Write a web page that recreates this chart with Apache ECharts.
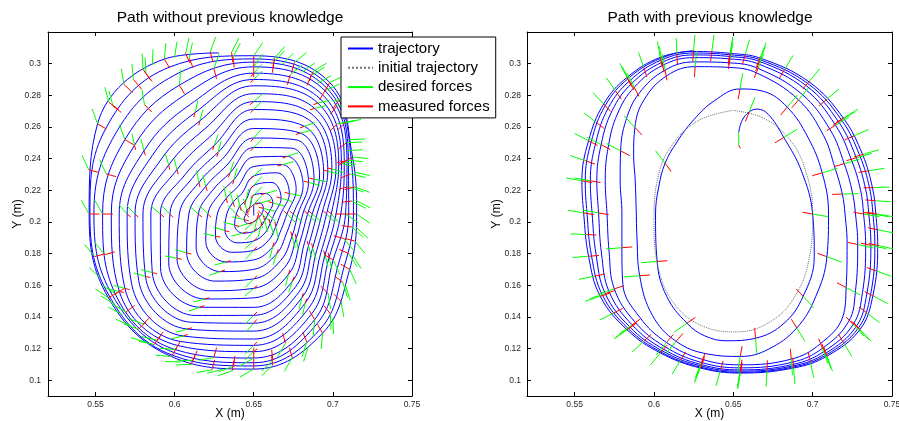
<!DOCTYPE html>
<html>
<head>
<meta charset="utf-8">
<title>Force-guided trajectories</title>
<script src="https://cdn.jsdelivr.net/npm/echarts@6/dist/echarts.min.js"></script>
<style>
  html, body { margin: 0; padding: 0; background: #fff; }
  #chart { width: 899px; height: 421px; }
</style>
</head>
<body>
<div id="chart"></div>
<script>
// Axis ticks (metres)
const xTicks = [0.55, 0.6, 0.65, 0.7, 0.75];
const yTicks = [0.1, 0.12, 0.14, 0.16, 0.18, 0.2, 0.22, 0.24, 0.26, 0.28, 0.3];

// Spiral followed without previous knowledge (x, y in m)
const leftTrajectory = [
  [0.650,0.204],
  [0.650,0.211],[0.654,0.2119],[0.6561,0.2085],[0.655,0.205],[0.6535,0.203],[0.652,0.2015],[0.650,0.200],[0.6465,0.1989],[0.6439,0.2015],[0.645,0.205],[0.6457,0.2075],[0.6475,0.2093],
  [0.650,0.217],[0.6575,0.218],[0.6621,0.212],[0.659,0.205],[0.6569,0.201],[0.6545,0.1972],[0.650,0.194],[0.643,0.1929],[0.6379,0.198],[0.639,0.205],[0.6413,0.210],[0.645,0.2137],
  [0.650,0.223],[0.6615,0.2249],[0.6673,0.215],[0.663,0.205],[0.6604,0.199],[0.657,0.1929],[0.650,0.188],[0.6395,0.1868],[0.6318,0.1945],[0.633,0.205],[0.637,0.2125],[0.6425,0.218],
  [0.650,0.229],[0.665,0.231],[0.6725,0.218],[0.667,0.205],[0.6639,0.197],[0.6595,0.1885],[0.650,0.182],[0.636,0.1808],[0.6258,0.191],[0.627,0.205],[0.6327,0.215],[0.640,0.2223],
  [0.650,0.235],[0.668,0.2362],[0.6768,0.2205],[0.671,0.205],[0.6673,0.195],[0.662,0.1842],[0.650,0.176],[0.6325,0.1747],[0.6197,0.1875],[0.621,0.205],[0.6283,0.2175],[0.6375,0.2267],
  [0.650,0.241],[0.671,0.2414],[0.6812,0.223],[0.675,0.205],[0.6708,0.193],[0.6645,0.1799],[0.650,0.170],[0.629,0.1686],[0.6136,0.184],[0.615,0.205],[0.624,0.220],[0.635,0.231],
  [0.650,0.247],[0.674,0.2466],[0.6846,0.225],[0.678,0.205],[0.6742,0.191],[0.667,0.1756],[0.650,0.164],[0.6255,0.1626],[0.6076,0.1805],[0.609,0.205],[0.6197,0.2225],[0.6325,0.2353],
  [0.650,0.253],[0.677,0.2518],[0.6881,0.227],[0.681,0.205],[0.6768,0.1895],[0.6695,0.1712],[0.650,0.158],[0.622,0.1565],[0.6015,0.177],[0.603,0.205],[0.6154,0.225],[0.630,0.2396],
  [0.650,0.259],[0.6795,0.2561],[0.6916,0.229],[0.684,0.205],[0.6794,0.188],[0.672,0.1669],[0.650,0.152],[0.619,0.1513],[0.5963,0.174],[0.597,0.205],[0.611,0.2275],[0.6275,0.244],
  [0.650,0.265],[0.682,0.2604],[0.6942,0.2305],[0.687,0.205],[0.682,0.1865],[0.6745,0.1626],[0.650,0.146],[0.616,0.1461],[0.5911,0.171],[0.591,0.205],[0.6067,0.230],[0.625,0.2483],
  [0.650,0.271],[0.6845,0.2648],[0.6968,0.232],[0.690,0.205],[0.6846,0.185],[0.6765,0.1591],[0.650,0.141],[0.613,0.1409],[0.5859,0.168],[0.585,0.205],[0.6015,0.233],[0.622,0.2535],
  [0.650,0.276],[0.6865,0.2682],[0.6994,0.2335],[0.693,0.205],[0.6872,0.1835],[0.6785,0.1556],[0.650,0.136],[0.6105,0.1366],[0.5816,0.1655],[0.580,0.205],[0.5963,0.236],[0.619,0.2587],
  [0.650,0.281],[0.6885,0.2717],[0.702,0.235],[0.696,0.205],[0.6898,0.182],[0.6805,0.1522],[0.650,0.131],[0.608,0.1323],[0.5773,0.163],[0.575,0.205],[0.5911,0.239],[0.616,0.2639],
  [0.650,0.286],[0.6905,0.2751],[0.7037,0.236],[0.699,0.205],[0.6924,0.1805],[0.6825,0.1487],[0.650,0.126],[0.6055,0.1279],[0.5729,0.1605],[0.570,0.205],[0.5859,0.242],[0.613,0.2691],
  [0.650,0.290],[0.692,0.2777],[0.7054,0.237],[0.702,0.205],[0.695,0.179],[0.6845,0.1452],[0.650,0.122],[0.6035,0.1245],[0.5686,0.158],[0.565,0.205],[0.5807,0.245],[0.610,0.2743],
  [0.650,0.294],[0.6935,0.2803],[0.7072,0.238],[0.705,0.205],[0.6976,0.1775],[0.6865,0.1418],[0.650,0.118],[0.602,0.1219],[0.5651,0.156],[0.560,0.205],[0.5747,0.2485],[0.6065,0.2803],
  [0.650,0.298],[0.695,0.2829],[0.7089,0.239],[0.708,0.205],[0.7002,0.176],[0.6885,0.1383],[0.650,0.114],[0.6005,0.1193],[0.5625,0.1545],[0.5545,0.205],[0.5686,0.252],[0.603,0.2864],
  [0.650,0.301],[0.696,0.2847],[0.7098,0.2395],[0.710,0.205],[0.7037,0.174],[0.690,0.1357],[0.650,0.111],[0.5995,0.1175],[0.5608,0.1535],[0.549,0.205],[0.5625,0.2555],[0.5995,0.2925],
  [0.650,0.303],[0.697,0.2864],[0.7115,0.2405],[0.713,0.205],[0.7072,0.172],[0.692,0.1323],[0.650,0.109],[0.5985,0.1158],[0.5591,0.1525],[0.5465,0.205],[0.5565,0.259],[0.5965,0.2977],
  [0.650,0.305],[0.698,0.2881],[0.7124,0.241],[0.715,0.205],[0.7106,0.170],[0.6935,0.1297],[0.650,0.107],[0.598,0.1149],[0.5582,0.152],[0.546,0.205],[0.5513,0.262],[0.5935,0.3029],
  [0.628,0.3068]
];

// Spiral followed with previous knowledge (x, y in m)
const rightTrajectory = [
  [0.6534,0.2565],[0.6555,0.264],[0.660,0.2695],[0.665,0.2713],[0.672,0.268],[0.6818,0.2534],[0.693,0.232],[0.700,0.205],[0.701,0.178],[0.694,0.153],[0.682,0.136],[0.664,0.1265],[0.646,0.1249],[0.632,0.128],[0.6208,0.136],[0.608,0.153],[0.602,0.175],[0.601,0.205],
  [0.603,0.222],[0.607,0.237],[0.6145,0.2505],[0.625,0.2645],[0.638,0.2765],[0.6542,0.284],[0.669,0.2825],[0.684,0.2725],[0.697,0.2535],[0.706,0.231],[0.710,0.205],[0.709,0.178],[0.702,0.153],[0.690,0.133],[0.672,0.1195],[0.6544,0.115],[0.634,0.1165],[0.614,0.1245],[0.599,0.141],[0.591,0.166],[0.5893,0.19],[0.5888,0.208],
  [0.5882,0.226],[0.5872,0.2423],[0.588,0.2597],[0.5937,0.2771],[0.6083,0.2925],[0.626,0.2981],[0.648,0.2976],[0.665,0.294],[0.6911,0.2771],[0.7069,0.2545],[0.7141,0.234],[0.7187,0.2176],[0.7204,0.205],[0.7217,0.186],[0.7211,0.1585],[0.719,0.1401],[0.7046,0.1228],[0.6865,0.1133],[0.6544,0.1097],[0.6303,0.1132],[0.6079,0.1238],[0.591,0.1398],[0.5804,0.1606],[0.5798,0.1837],[0.5798,0.2057],
  [0.5787,0.226],[0.579,0.2449],[0.5823,0.264],[0.5906,0.2812],[0.607,0.2959],[0.6257,0.3011],[0.648,0.3005],[0.6656,0.297],[0.6932,0.2807],[0.7111,0.2581],[0.7199,0.2368],[0.725,0.2189],[0.727,0.205],[0.7284,0.1857],[0.727,0.1566],[0.7228,0.1373],[0.7061,0.1201],[0.687,0.1113],[0.6544,0.1078],[0.6299,0.1112],[0.6065,0.1214],[0.588,0.1368],[0.575,0.1577],[0.5717,0.1816],[0.5704,0.2057],
  [0.5693,0.226],[0.5712,0.2474],[0.5769,0.2681],[0.5876,0.2851],[0.6058,0.2991],[0.6254,0.3038],[0.648,0.303],[0.6661,0.2997],[0.6951,0.284],[0.7144,0.2611],[0.7245,0.2391],[0.7302,0.220],[0.7321,0.205],[0.7334,0.1854],[0.7314,0.1553],[0.7255,0.1352],[0.7072,0.1182],[0.6874,0.1099],[0.6544,0.1065],[0.6297,0.1099],[0.6056,0.1198],[0.5862,0.135],[0.5717,0.156],[0.5669,0.1804],[0.5651,0.2057],
  [0.564,0.226],[0.5667,0.2488],[0.5737,0.2704],[0.5859,0.2874],[0.6052,0.3009],[0.6253,0.3055],[0.648,0.3045],[0.6665,0.3014],[0.6962,0.2859],[0.7165,0.263],[0.7275,0.2405],[0.7334,0.2206],[0.7354,0.205],[0.7367,0.1852],[0.7341,0.1544],[0.7274,0.1338],[0.708,0.1169],[0.6877,0.109],[0.6544,0.1057],[0.6295,0.109],[0.6049,0.1187],[0.5848,0.1336],[0.5693,0.1547],[0.5635,0.1795],[0.561,0.2057],
  [0.5599,0.226],[0.5633,0.2499],[0.5713,0.2722],[0.5846,0.2891],[0.6046,0.3023],[0.6252,0.3067],[0.648,0.3056],[0.6667,0.3025],[0.6971,0.2873],[0.7182,0.2644],[0.7298,0.2416],[0.7359,0.2212],[0.738,0.205],[0.7392,0.1851],[0.7364,0.1537],[0.7287,0.1328],[0.7086,0.116],[0.6878,0.1083],[0.6544,0.105],[0.6293,0.1082],[0.6044,0.1178],[0.5838,0.1326],[0.5675,0.1538],[0.5606,0.1788],[0.5578,0.2057],
  [0.5567,0.226],[0.5605,0.2508],[0.5694,0.2737],[0.5836,0.2905],[0.6042,0.3033],[0.625,0.3077],[0.648,0.3065],[0.6669,0.3035],[0.6977,0.2885],[0.7194,0.2655],[0.7315,0.2424],[0.7377,0.2215],[0.7398,0.205],[0.741,0.185],[0.7379,0.1532],[0.7298,0.132],[0.709,0.1152],[0.688,0.1077],[0.6544,0.1045],[0.6292,0.1077],[0.604,0.1172],[0.583,0.1319],[0.5661,0.1531],[0.5588,0.1783],[0.5557,0.2057],
  [0.5546,0.226],[0.5588,0.2513],[0.5683,0.2745],[0.583,0.2913],[0.604,0.304],[0.625,0.3082]
];

// Initial (planned) trajectory used as prior
const initialTrajectory = [
  [0.650,0.2705],[0.668,0.266],[0.684,0.254],[0.695,0.234],[0.700,0.205],[0.698,0.178],[0.690,0.155],[0.675,0.138],[0.652,0.1305],[0.630,0.1345],[0.613,0.148],[0.603,0.170],[0.600,0.200],[0.6025,0.228],[0.611,0.248],[0.628,0.264],[0.650,0.2705]
];

// Forces: [x, y, dx, dy] -> drawn from (x, y) to (x + dx, y + dy)
const leftDesired = [
  [0.650,0.211,0.0050,0.0055],[0.654,0.2119,0.0070,0.0021],[0.6561,0.2085,0.0074,-0.0017],[0.655,0.205,0.0055,-0.0050],[0.6535,0.203,0.0021,-0.0070],[0.652,0.2015,-0.0017,-0.0074],[0.650,0.200,-0.0055,-0.0050],[0.6465,0.1989,-0.0070,-0.0021],[0.6439,0.2015,-0.0074,0.0017],[0.645,0.205,-0.0050,0.0055],[0.6457,0.2075,-0.0021,0.0070],[0.6475,0.2093,0.0017,0.0074],
  [0.650,0.217,0.0053,0.0053],[0.6575,0.218,0.0072,0.0019],[0.6621,0.212,0.0072,-0.0019],[0.659,0.205,0.0053,-0.0053],[0.6569,0.201,0.0019,-0.0072],[0.6545,0.1972,-0.0019,-0.0072],[0.650,0.194,-0.0053,-0.0053],[0.643,0.1929,-0.0072,-0.0019],[0.6379,0.198,-0.0072,0.0019],[0.639,0.205,-0.0053,0.0053],[0.6413,0.210,-0.0019,0.0072],[0.645,0.2137,0.0019,0.0072],
  [0.650,0.223,0.0050,0.0056],[0.6673,0.215,0.0070,-0.0022],[0.6604,0.199,0.0022,-0.0070],[0.650,0.188,-0.0056,-0.0050],[0.6318,0.1945,-0.0070,0.0022],[0.637,0.2125,-0.0022,0.0070],
  [0.650,0.229,0.0055,0.0051],[0.6725,0.218,0.0074,-0.0016],[0.6639,0.197,0.0016,-0.0074],[0.650,0.182,-0.0051,-0.0055],[0.6258,0.191,-0.0074,0.0016],[0.6327,0.215,-0.0016,0.0074],
  [0.668,0.2362,0.0072,0.0019],[0.671,0.205,0.0053,-0.0053],[0.662,0.1842,-0.0019,-0.0072],[0.6325,0.1747,-0.0072,-0.0019],[0.621,0.205,-0.0053,0.0053],[0.6375,0.2267,0.0019,0.0072],
  [0.671,0.2414,0.0070,0.0023],[0.675,0.205,0.0056,-0.0050],[0.6645,0.1799,-0.0023,-0.0070],[0.629,0.1686,-0.0070,-0.0023],[0.615,0.205,-0.0056,0.0050],[0.635,0.231,0.0023,0.0070],
  [0.650,0.247,0.0053,0.0053],[0.6846,0.225,0.0072,-0.0019],[0.6742,0.191,0.0019,-0.0072],[0.650,0.164,-0.0053,-0.0053],[0.6076,0.1805,-0.0072,0.0019],[0.6197,0.2225,-0.0019,0.0072],
  [0.650,0.253,0.0049,0.0057],[0.6881,0.227,0.0075,-0.0015],[0.6768,0.1895,0.0015,-0.0075],[0.650,0.158,-0.0057,-0.0049],[0.6015,0.177,-0.0075,0.0015],[0.6154,0.225,-0.0015,0.0075],
  [0.6795,0.2561,0.0072,0.0019],[0.684,0.205,0.0053,-0.0053],[0.672,0.1669,-0.0019,-0.0072],[0.619,0.1513,-0.0072,-0.0019],[0.597,0.205,-0.0053,0.0053],[0.6275,0.244,0.0019,0.0072],
  [0.682,0.2604,0.0069,0.0024],[0.687,0.205,0.0057,-0.0048],[0.6745,0.1626,-0.0024,-0.0069],[0.616,0.1461,-0.0069,-0.0024],[0.591,0.205,-0.0057,0.0048],[0.625,0.2483,0.0024,0.0069],
  [0.650,0.271,0.0053,0.0053],[0.6968,0.232,0.0072,-0.0019],[0.6846,0.185,0.0019,-0.0072],[0.650,0.141,-0.0053,-0.0053],[0.5859,0.168,-0.0072,0.0019],[0.6015,0.233,-0.0019,0.0072],
  [0.650,0.276,0.0056,0.0050],[0.6994,0.2335,0.0073,-0.0023],[0.6872,0.1835,0.0023,-0.0073],[0.650,0.136,-0.0050,-0.0056],[0.5816,0.1655,-0.0073,0.0023],[0.5963,0.236,-0.0023,0.0073],
  [0.6885,0.2717,0.0072,0.0019],[0.696,0.205,0.0053,-0.0053],[0.6805,0.1522,-0.0019,-0.0072],[0.608,0.1323,-0.0072,-0.0019],[0.575,0.205,-0.0053,0.0053],[0.616,0.2639,0.0019,0.0072],
  [0.6905,0.2751,0.0074,0.0016],[0.699,0.205,0.0050,-0.0056],[0.6825,0.1487,-0.0016,-0.0074],[0.6055,0.1279,-0.0074,-0.0016],[0.570,0.205,-0.0050,0.0056],[0.613,0.2691,0.0016,0.0074],
  [0.650,0.290,0.0053,0.0053],[0.7054,0.237,0.0072,-0.0019],[0.695,0.179,0.0019,-0.0072],[0.650,0.122,-0.0053,-0.0053],[0.5686,0.158,-0.0072,0.0019],[0.5807,0.245,-0.0019,0.0072],
  [0.650,0.294,0.0051,0.0055],[0.7072,0.238,0.0073,-0.0017],[0.6976,0.1775,0.0017,-0.0073],[0.650,0.118,-0.0055,-0.0051],[0.5651,0.156,-0.0073,0.0017],[0.5747,0.2485,-0.0017,0.0073],
  [0.650,0.298,0.0057,0.0082],[0.695,0.2829,0.0091,0.0042],[0.7089,0.239,0.0100,-0.0009],[0.708,0.205,0.0082,-0.0057],[0.7002,0.176,0.0042,-0.0091],[0.6885,0.1383,-0.0009,-0.0100],
  [0.650,0.114,-0.0087,-0.0050],[0.6005,0.1193,-0.0100,0.0009],[0.5625,0.1545,-0.0082,0.0057],[0.5545,0.205,-0.0050,0.0087],[0.5686,0.252,-0.0034,0.0094],[0.603,0.2864,0.0009,0.0100],
  [0.673,0.2929,0.0077,0.0064],[0.7029,0.2621,0.0098,0.0017],[0.7099,0.2223,0.0094,-0.0034],[0.7069,0.1895,0.0064,-0.0077],[0.6969,0.1549,0.0017,-0.0098],[0.670,0.1234,-0.0050,-0.0087],
  [0.6248,0.1143,-0.0098,-0.0017],[0.5802,0.1355,-0.0094,0.0034],[0.5559,0.1793,-0.0064,0.0077],[0.5568,0.2303,-0.0042,0.0091],[0.581,0.274,-0.0017,0.0098],[0.6248,0.2968,0.0034,0.0094],
  [0.6369,0.3041,0.0046,0.0089],[0.6626,0.3007,0.0067,0.0074],[0.6862,0.2923,0.0084,0.0053],[0.7024,0.2732,0.0095,0.0030],[0.7087,0.2501,0.0099,0.0004],[0.711,0.2303,0.0097,-0.0022],
  [0.712,0.2132,0.0088,-0.0046],[0.712,0.1968,0.0073,-0.0067],[0.710,0.1801,0.0053,-0.0084],[0.7063,0.1618,0.0030,-0.0095],[0.6984,0.1419,0.0004,-0.0099],[0.6835,0.1242,-0.0030,-0.0095],
  [0.6621,0.1128,-0.0070,-0.0070],[0.6373,0.1088,-0.0093,-0.0034],[0.6117,0.1126,-0.0099,-0.0004],[0.5888,0.1253,-0.0097,0.0022],[0.5695,0.1432,-0.0088,0.0046],[0.6092,0.3034,0.0021,0.0098],
  [0.5818,0.2939,-0.0004,0.0100],[0.5611,0.2732,-0.0026,0.0096],
  [0.5935,0.3029,0.0009,0.0100],[0.580,0.2965,-0.0005,0.0099],[0.568,0.287,-0.0017,0.0098],[0.5585,0.2755,-0.0026,0.0096],[0.5513,0.262,-0.0034,0.0094],[0.5457,0.233,-0.0042,0.0091],
  [0.546,0.205,-0.0050,0.0087],[0.5495,0.1781,-0.0064,0.0077],[0.5532,0.1645,-0.0073,0.0067],[0.5582,0.152,-0.0082,0.0057],[0.567,0.1415,-0.0088,0.0046],[0.5772,0.1322,-0.0094,0.0034],
  [0.587,0.1225,-0.0097,0.0022],[0.598,0.1149,-0.0100,0.0009],[0.6105,0.110,-0.0099,-0.0004],[0.6236,0.1065,-0.0098,-0.0017],[0.6365,0.106,-0.0093,-0.0033],[0.650,0.107,-0.0087,-0.0050],
  [0.662,0.1095,-0.0070,-0.0068],[0.6743,0.1142,-0.0050,-0.0087],[0.6845,0.1212,-0.0030,-0.0094],[0.6935,0.1297,-0.0009,-0.0100],[0.700,0.139,0.0004,-0.0099],[0.7052,0.1498,0.0017,-0.0098],
  [0.708,0.1598,0.0030,-0.0095],[0.7106,0.170,0.0042,-0.0091],[0.7125,0.179,0.0053,-0.0084],[0.7138,0.1879,0.0064,-0.0077],[0.7148,0.1965,0.0073,-0.0067],[0.715,0.205,0.0082,-0.0057],
  [0.7148,0.2135,0.0088,-0.0046],[0.7138,0.2221,0.0094,-0.0034],[0.7135,0.2315,0.0097,-0.0022],[0.7124,0.241,0.0100,-0.0009],[0.7105,0.252,0.0099,0.0004],[0.708,0.263,0.0098,0.0017],
  [0.704,0.277,0.0095,0.0030],[0.698,0.2881,0.0091,0.0042],[0.6875,0.295,0.0085,0.0053],[0.6756,0.3006,0.0077,0.0064],[0.663,0.3035,0.0067,0.0073],[0.650,0.305,0.0057,0.0082],
  [0.636,0.3072,0.0046,0.0089],[0.6225,0.3074,0.0034,0.0094],[0.607,0.3065,0.0021,0.0098],
  [0.690,0.2875,0.0088,0.0048],[0.700,0.276,0.0094,0.0034],[0.7055,0.262,0.0097,0.0022],[0.6805,0.2945,0.0080,0.0060],[0.668,0.2995,0.0070,0.0071],[0.709,0.245,0.0099,0.0006],
  [0.572,0.1345,-0.0092,0.0040],[0.582,0.124,-0.0096,0.0028],[0.604,0.1115,-0.0100,0.0003],[0.630,0.1068,-0.0096,-0.0025],[0.562,0.148,-0.0085,0.0052],
  [0.574,0.290,-0.0010,0.0099],[0.586,0.299,0.0003,0.0100],[0.600,0.304,0.0015,0.0099]
];

const leftMeasured = [
  [0.650,0.211,-0.0021,-0.0021],[0.654,0.2119,-0.0029,-0.0008],[0.6561,0.2085,-0.0029,0.0008],[0.655,0.205,-0.0021,0.0021],[0.6535,0.203,-0.0008,0.0029],[0.652,0.2015,0.0008,0.0029],[0.650,0.200,0.0021,0.0021],[0.6465,0.1989,0.0029,0.0008],[0.6439,0.2015,0.0029,-0.0008],[0.645,0.205,0.0021,-0.0021],[0.6457,0.2075,0.0008,-0.0029],[0.6475,0.2093,-0.0008,-0.0029],
  [0.650,0.217,-0.0021,-0.0021],[0.6575,0.218,-0.0029,-0.0008],[0.6621,0.212,-0.0029,0.0008],[0.659,0.205,-0.0021,0.0021],[0.6569,0.201,-0.0008,0.0029],[0.6545,0.1972,0.0008,0.0029],[0.650,0.194,0.0021,0.0021],[0.643,0.1929,0.0029,0.0008],[0.6379,0.198,0.0029,-0.0008],[0.639,0.205,0.0021,-0.0021],[0.6413,0.210,0.0008,-0.0029],[0.645,0.2137,-0.0008,-0.0029],
  [0.650,0.223,-0.0021,-0.0021],[0.6673,0.215,-0.0029,0.0008],[0.6604,0.199,-0.0008,0.0029],[0.650,0.188,0.0021,0.0021],[0.6318,0.1945,0.0029,-0.0008],[0.637,0.2125,0.0008,-0.0029],
  [0.650,0.229,-0.0023,-0.0019],[0.6725,0.218,-0.0030,0.0006],[0.6639,0.197,-0.0006,0.0030],[0.650,0.182,0.0019,0.0023],[0.6258,0.191,0.0030,-0.0006],[0.6327,0.215,0.0006,-0.0030],
  [0.668,0.2362,-0.0029,-0.0008],[0.671,0.205,-0.0021,0.0021],[0.662,0.1842,0.0008,0.0029],[0.6325,0.1747,0.0029,0.0008],[0.621,0.205,0.0021,-0.0021],[0.6375,0.2267,-0.0008,-0.0029],
  [0.671,0.2414,-0.0028,-0.0010],[0.675,0.205,-0.0023,0.0019],[0.6645,0.1799,0.0010,0.0028],[0.629,0.1686,0.0028,0.0010],[0.615,0.205,0.0023,-0.0019],[0.635,0.231,-0.0010,-0.0028],
  [0.650,0.247,-0.0021,-0.0021],[0.6846,0.225,-0.0029,0.0008],[0.6742,0.191,-0.0008,0.0029],[0.650,0.164,0.0021,0.0021],[0.6076,0.1805,0.0029,-0.0008],[0.6197,0.2225,0.0008,-0.0029],
  [0.650,0.253,-0.0019,-0.0023],[0.6881,0.227,-0.0030,0.0006],[0.6768,0.1895,-0.0006,0.0030],[0.650,0.158,0.0023,0.0019],[0.6015,0.177,0.0030,-0.0006],[0.6154,0.225,0.0006,-0.0030],
  [0.6795,0.2561,-0.0029,-0.0008],[0.684,0.205,-0.0021,0.0021],[0.672,0.1669,0.0008,0.0029],[0.619,0.1513,0.0029,0.0008],[0.597,0.205,0.0021,-0.0021],[0.6275,0.244,-0.0008,-0.0029],
  [0.682,0.2604,-0.0028,-0.0010],[0.687,0.205,-0.0023,0.0019],[0.6745,0.1626,0.0010,0.0028],[0.616,0.1461,0.0028,0.0010],[0.591,0.205,0.0023,-0.0019],[0.625,0.2483,-0.0010,-0.0028],
  [0.650,0.271,-0.0021,-0.0021],[0.6968,0.232,-0.0029,0.0008],[0.6846,0.185,-0.0008,0.0029],[0.650,0.141,0.0021,0.0021],[0.5859,0.168,0.0029,-0.0008],[0.6015,0.233,0.0008,-0.0029],
  [0.650,0.276,-0.0023,-0.0019],[0.6994,0.2335,-0.0030,0.0006],[0.6872,0.1835,-0.0006,0.0030],[0.650,0.136,0.0019,0.0023],[0.5816,0.1655,0.0030,-0.0006],[0.5963,0.236,0.0006,-0.0030],
  [0.6885,0.2717,-0.0029,-0.0008],[0.696,0.205,-0.0021,0.0021],[0.6805,0.1522,0.0008,0.0029],[0.608,0.1323,0.0029,0.0008],[0.575,0.205,0.0021,-0.0021],[0.616,0.2639,-0.0008,-0.0029],
  [0.6905,0.2751,-0.0028,-0.0010],[0.699,0.205,-0.0023,0.0019],[0.6825,0.1487,0.0010,0.0028],[0.6055,0.1279,0.0028,0.0010],[0.570,0.205,0.0023,-0.0019],[0.613,0.2691,-0.0010,-0.0028],
  [0.650,0.290,-0.0021,-0.0021],[0.7054,0.237,-0.0029,0.0008],[0.695,0.179,-0.0008,0.0029],[0.650,0.122,0.0021,0.0021],[0.5686,0.158,0.0029,-0.0008],[0.5807,0.245,0.0008,-0.0029],
  [0.650,0.294,-0.0019,-0.0023],[0.7072,0.238,-0.0030,0.0006],[0.6976,0.1775,-0.0006,0.0030],[0.650,0.118,0.0023,0.0019],[0.5651,0.156,0.0030,-0.0006],[0.5747,0.2485,0.0006,-0.0030],
  [0.650,0.298,0.0000,-0.0065],[0.695,0.2829,-0.0033,-0.0056],[0.7089,0.239,-0.0056,-0.0033],[0.708,0.205,-0.0065,0.0000],[0.7002,0.176,-0.0056,0.0033],[0.6885,0.1383,-0.0033,0.0056],
  [0.650,0.114,0.0000,0.0065],[0.6005,0.1193,0.0033,0.0056],[0.5625,0.1545,0.0056,0.0033],[0.5545,0.205,0.0065,0.0000],[0.5686,0.252,0.0056,-0.0033],[0.603,0.2864,0.0033,-0.0056],
  [0.673,0.2929,-0.0017,-0.0063],[0.7029,0.2621,-0.0046,-0.0046],[0.7099,0.2223,-0.0063,-0.0017],[0.7069,0.1895,-0.0063,0.0017],[0.6969,0.1549,-0.0046,0.0046],[0.670,0.1234,-0.0017,0.0063],
  [0.6248,0.1143,0.0017,0.0063],[0.5802,0.1355,0.0046,0.0046],[0.5559,0.1793,0.0063,0.0017],[0.5568,0.2303,0.0063,-0.0017],[0.581,0.274,0.0046,-0.0046],[0.6248,0.2968,0.0017,-0.0063],
  [0.6369,0.3041,0.0008,-0.0064],[0.6626,0.3007,-0.0008,-0.0064],[0.6862,0.2923,-0.0025,-0.0060],[0.7024,0.2732,-0.0040,-0.0052],[0.7087,0.2501,-0.0052,-0.0040],[0.711,0.2303,-0.0060,-0.0025],
  [0.712,0.2132,-0.0064,-0.0008],[0.712,0.1968,-0.0064,0.0008],[0.710,0.1801,-0.0060,0.0025],[0.7063,0.1618,-0.0052,0.0040],[0.6984,0.1419,-0.0040,0.0052],[0.6835,0.1242,-0.0025,0.0060],
  [0.6621,0.1128,-0.0008,0.0064],[0.6373,0.1088,0.0008,0.0064],[0.6117,0.1126,0.0025,0.0060],[0.5888,0.1253,0.0040,0.0052],[0.5695,0.1432,0.0052,0.0040],[0.6092,0.3034,0.0025,-0.0060],
  [0.5818,0.2939,0.0040,-0.0052],[0.5611,0.2732,0.0052,-0.0040],
  [0.5935,0.3029,0.0033,-0.0056],[0.580,0.2965,0.0045,-0.0065],[0.568,0.287,0.0055,-0.0055],[0.5585,0.2755,0.0062,-0.0045],[0.5513,0.262,0.0056,-0.0033],[0.574,0.290,0.0050,-0.0060],
  [0.5457,0.233,0.0063,-0.0017],[0.546,0.205,0.0065,0.0000],[0.5495,0.1781,0.0063,0.0017],[0.5582,0.152,0.0056,0.0033],[0.5772,0.1322,0.0046,0.0046],[0.587,0.1225,0.0040,0.0052],
  [0.598,0.1149,0.0033,0.0056],[0.6105,0.110,0.0025,0.0060],[0.6236,0.1065,0.0017,0.0063],[0.6365,0.106,0.0008,0.0064],[0.650,0.107,0.0000,0.0065],[0.662,0.1095,-0.0008,0.0064],
  [0.6743,0.1142,-0.0017,0.0063],[0.6935,0.1297,-0.0033,0.0056],[0.7052,0.1498,-0.0046,0.0046],[0.7106,0.170,-0.0056,0.0033],[0.7138,0.1879,-0.0063,0.0017],[0.715,0.205,-0.0065,0.0000],
  [0.7138,0.2221,-0.0063,-0.0017],[0.7124,0.241,-0.0056,-0.0033],[0.708,0.263,-0.0046,-0.0046],[0.704,0.277,-0.0040,-0.0052],[0.698,0.2881,-0.0033,-0.0056],[0.6875,0.295,-0.0025,-0.0060],
  [0.6756,0.3006,-0.0017,-0.0063],[0.663,0.3035,-0.0008,-0.0064],[0.650,0.305,0.0000,-0.0065],[0.636,0.3072,0.0008,-0.0064],[0.6225,0.3074,0.0017,-0.0063],[0.607,0.3065,0.0025,-0.0060]
];

const rightDesired = [
  [0.5546,0.226,-0.0099,0.0017],[0.5588,0.2513,-0.0088,0.0046],[0.5683,0.2745,-0.0068,0.0073],[0.583,0.2913,-0.0045,0.0089],[0.604,0.304,-0.0018,0.0099],
  [0.625,0.3082,0.0008,0.0100],[0.648,0.307,0.0017,0.0099],[0.667,0.304,0.0037,0.0093],[0.698,0.289,0.0064,0.0077],[0.720,0.266,0.0085,0.0052],
  [0.7322,0.2428,0.0096,0.0028],[0.7385,0.2217,0.0099,0.0003],[0.7406,0.205,0.0099,-0.0017],[0.7417,0.185,0.0098,-0.0022],[0.7385,0.153,0.0088,-0.0046],
  [0.7301,0.1318,0.0068,-0.0073],[0.7091,0.115,0.0034,-0.0094],[0.688,0.1076,0.0008,-0.0100],[0.6544,0.1044,-0.0017,-0.0099],[0.6292,0.1076,-0.0037,-0.0093],
  [0.604,0.1171,-0.0064,-0.0077],[0.583,0.1318,-0.0081,-0.0057],[0.5661,0.153,-0.0095,-0.0031],[0.5588,0.1783,-0.0100,-0.0008],[0.5557,0.2057,-0.0099,0.0017],
  [0.5567,0.2387,-0.0094,0.0032],[0.5636,0.2629,-0.0078,0.0060],[0.5757,0.2829,-0.0057,0.0081],[0.5935,0.2977,-0.0032,0.0094],[0.6145,0.3061,-0.0005,0.0100],
  [0.6365,0.3081,0.0013,0.0100],[0.6575,0.3056,0.0027,0.0096],[0.6825,0.2966,0.0051,0.0085],[0.709,0.2775,0.0075,0.0065],[0.7261,0.2544,0.0091,0.0040],
  [0.7354,0.2323,0.0098,0.0016],[0.7396,0.2134,0.0099,-0.0007],[0.7412,0.195,0.0099,-0.0020],[0.7401,0.169,0.0093,-0.0034],[0.7343,0.1424,0.0078,-0.0060],
  [0.7196,0.1234,0.0051,-0.0084],[0.6986,0.1113,0.0021,-0.0097],[0.6712,0.106,-0.0005,-0.0100],[0.6418,0.106,-0.0027,-0.0096],[0.6166,0.1124,-0.0051,-0.0085],
  [0.5935,0.1245,-0.0073,-0.0067],[0.5746,0.1424,-0.0088,-0.0044],[0.5625,0.1657,-0.0098,-0.0020],[0.5573,0.192,-0.0100,0.0005],
  [0.5599,0.226,-0.0099,0.0017],[0.5846,0.2891,-0.0045,0.0089],[0.648,0.3056,0.0017,0.0099],[0.7182,0.2644,0.0085,0.0052],[0.738,0.205,0.0099,-0.0017],[0.7287,0.1328,0.0068,-0.0073],[0.6544,0.105,-0.0017,-0.0099],[0.5838,0.1326,-0.0081,-0.0057],
  [0.5667,0.2488,-0.0088,0.0046],[0.6052,0.3009,-0.0018,0.0099],[0.6665,0.3014,0.0037,0.0093],[0.7275,0.2405,0.0096,0.0028],[0.7367,0.1852,0.0098,-0.0022],[0.708,0.1169,0.0034,-0.0094],[0.6295,0.109,-0.0037,-0.0093],[0.5693,0.1547,-0.0095,-0.0031],
  [0.5876,0.2851,-0.0045,0.0089],[0.648,0.303,0.0017,0.0099],[0.7144,0.2611,0.0085,0.0052],[0.7321,0.205,0.0099,-0.0017],[0.7255,0.1352,0.0068,-0.0073],[0.6544,0.1065,-0.0017,-0.0099],[0.5862,0.135,-0.0081,-0.0057],[0.5651,0.2057,-0.0099,0.0017],
  [0.579,0.2449,-0.0088,0.0046],[0.607,0.2959,-0.0018,0.0099],[0.6656,0.297,0.0037,0.0093],[0.7199,0.2368,0.0096,0.0028],[0.7284,0.1857,0.0098,-0.0022],[0.7061,0.1201,0.0034,-0.0094],[0.6299,0.1112,-0.0037,-0.0093],[0.575,0.1577,-0.0095,-0.0031],
  [0.588,0.2597,-0.0068,0.0073],[0.626,0.2981,0.0008,0.0100],[0.6911,0.2771,0.0064,0.0077],[0.7187,0.2176,0.0099,0.0003],[0.7211,0.1585,0.0088,-0.0046],[0.6865,0.1133,0.0008,-0.0100],[0.6079,0.1238,-0.0064,-0.0077],[0.5798,0.1837,-0.0100,-0.0008],
  [0.607,0.237,-0.0060,0.0080],[0.6542,0.284,0.0017,0.0099],[0.684,0.2725,0.0064,0.0077],[0.706,0.231,0.0096,0.0028],[0.709,0.178,0.0093,-0.0034],[0.690,0.133,0.0052,-0.0085],[0.6544,0.115,-0.0017,-0.0099],[0.614,0.1245,-0.0064,-0.0077],[0.591,0.166,-0.0100,-0.0008],
  [0.6534,0.2565,0.0000,-0.0080],[0.660,0.2695,0.0037,0.0093],[0.6818,0.2534,0.0085,0.0052],[0.700,0.205,0.0099,-0.0017],[0.694,0.153,0.0068,-0.0073],[0.664,0.1265,0.0008,-0.0100],[0.6208,0.136,-0.0081,-0.0057],[0.602,0.175,-0.0100,-0.0008]
];

const rightMeasured = [
  [0.5546,0.226,0.0064,-0.0011],[0.5588,0.2513,0.0057,-0.0030],[0.5683,0.2745,0.0044,-0.0047],[0.583,0.2913,0.0029,-0.0058],[0.604,0.304,0.0012,-0.0064],
  [0.625,0.3082,-0.0005,-0.0065],[0.648,0.307,-0.0011,-0.0064],[0.667,0.304,-0.0024,-0.0060],[0.698,0.289,-0.0042,-0.0050],[0.720,0.266,-0.0055,-0.0034],
  [0.7322,0.2428,-0.0062,-0.0018],[0.7385,0.2217,-0.0064,-0.0002],[0.7406,0.205,-0.0064,0.0011],[0.7417,0.185,-0.0064,0.0014],[0.7385,0.153,-0.0057,0.0030],
  [0.7301,0.1318,-0.0044,0.0047],[0.7091,0.115,-0.0022,0.0061],[0.688,0.1076,-0.0005,0.0065],[0.6544,0.1044,0.0011,0.0064],[0.6292,0.1076,0.0024,0.0060],
  [0.604,0.1171,0.0042,0.0050],[0.583,0.1318,0.0053,0.0037],[0.5661,0.153,0.0062,0.0020],[0.5588,0.1783,0.0065,0.0005],[0.5557,0.2057,0.0064,-0.0011],
  [0.5567,0.2387,0.0061,-0.0021],[0.5636,0.2629,0.0051,-0.0039],[0.5757,0.2829,0.0037,-0.0053],[0.5935,0.2977,0.0021,-0.0061],[0.6145,0.3061,0.0003,-0.0065],
  [0.6365,0.3081,-0.0008,-0.0065],[0.6575,0.3056,-0.0018,-0.0062],[0.6825,0.2966,-0.0033,-0.0055],[0.709,0.2775,-0.0049,-0.0042],[0.7261,0.2544,-0.0059,-0.0026],
  [0.7354,0.2323,-0.0064,-0.0010],[0.7396,0.2134,-0.0064,0.0005],[0.7412,0.195,-0.0064,0.0013],[0.7401,0.169,-0.0060,0.0022],[0.7343,0.1424,-0.0051,0.0039],
  [0.7196,0.1234,-0.0033,0.0055],[0.6986,0.1113,-0.0014,0.0063],[0.6712,0.106,0.0003,0.0065],[0.6418,0.106,0.0018,0.0062],[0.6166,0.1124,0.0033,0.0055],
  [0.5935,0.1245,0.0047,0.0044],[0.5746,0.1424,0.0057,0.0029],[0.5625,0.1657,0.0064,0.0013],[0.5573,0.192,0.0065,-0.0003],
  [0.5599,0.226,0.0064,-0.0011],[0.5846,0.2891,0.0029,-0.0058],[0.648,0.3056,-0.0011,-0.0064],[0.7182,0.2644,-0.0055,-0.0034],[0.738,0.205,-0.0064,0.0011],[0.7287,0.1328,-0.0044,0.0047],[0.6544,0.105,0.0011,0.0064],[0.5838,0.1326,0.0053,0.0037],
  [0.5667,0.2488,0.0057,-0.0030],[0.6052,0.3009,0.0012,-0.0064],[0.6665,0.3014,-0.0024,-0.0060],[0.7275,0.2405,-0.0062,-0.0018],[0.7367,0.1852,-0.0064,0.0014],[0.708,0.1169,-0.0022,0.0061],[0.6295,0.109,0.0024,0.0060],[0.5693,0.1547,0.0062,0.0020],
  [0.5876,0.2851,0.0029,-0.0058],[0.648,0.303,-0.0011,-0.0064],[0.7144,0.2611,-0.0055,-0.0034],[0.7321,0.205,-0.0064,0.0011],[0.7255,0.1352,-0.0044,0.0047],[0.6544,0.1065,0.0011,0.0064],[0.5862,0.135,0.0053,0.0037],[0.5651,0.2057,0.0064,-0.0011],
  [0.579,0.2449,0.0057,-0.0030],[0.607,0.2959,0.0012,-0.0064],[0.6656,0.297,-0.0024,-0.0060],[0.7199,0.2368,-0.0062,-0.0018],[0.7284,0.1857,-0.0064,0.0014],[0.7061,0.1201,-0.0022,0.0061],[0.6299,0.1112,0.0024,0.0060],[0.575,0.1577,0.0062,0.0020],
  [0.588,0.2597,0.0044,-0.0047],[0.626,0.2981,-0.0005,-0.0065],[0.6911,0.2771,-0.0042,-0.0050],[0.7187,0.2176,-0.0064,-0.0002],[0.7211,0.1585,-0.0057,0.0030],[0.6865,0.1133,-0.0005,0.0065],[0.6079,0.1238,0.0042,0.0050],[0.5798,0.1837,0.0065,0.0005],
  [0.607,0.237,0.0039,-0.0052],[0.6542,0.284,-0.0011,-0.0064],[0.684,0.2725,-0.0042,-0.0050],[0.706,0.231,-0.0062,-0.0018],[0.709,0.178,-0.0060,0.0022],[0.690,0.133,-0.0034,0.0055],[0.6544,0.115,0.0011,0.0064],[0.614,0.1245,0.0042,0.0050],[0.591,0.166,0.0065,0.0005],
  [0.6534,0.2485,0.0011,-0.0020],[0.660,0.2695,-0.0024,-0.0060],[0.6818,0.2534,-0.0055,-0.0034],[0.700,0.205,-0.0064,0.0011],[0.694,0.153,-0.0044,0.0047],[0.664,0.1265,-0.0005,0.0065],[0.6208,0.136,0.0053,0.0037],[0.602,0.175,0.0065,0.0005]
];

// Turn [x, y, dx, dy] vectors into one broken polyline ('-' ends each segment)
function vectorSegments(list) {
  const out = [];
  list.forEach(function (f) {
    out.push([f[0], f[1]], [f[0] + f[2], f[1] + f[3]], ['-', '-']);
  });
  return out;
}

const FONT = 'Liberation Sans, Arial, Helvetica, sans-serif';
const tickFmt = function (v) { return String(+v.toFixed(2)); };

function bottomAxis(grid) {
  return {
    gridIndex: grid, type: 'value', position: 'bottom', min: 0.52, max: 0.75,
    name: 'X (m)', nameLocation: 'middle', nameGap: 12, nameMoveOverlap: false,
    nameTextStyle: { fontSize: 12, color: '#000', fontFamily: FONT },
    axisLine: { show: true, onZero: false, lineStyle: { color: '#000', width: 1 } },
    axisTick: { show: true, inside: true, length: 4, customValues: xTicks, lineStyle: { color: '#000' } },
    axisLabel: { show: true, customValues: xTicks, formatter: tickFmt, fontSize: 8.5, color: '#262626', margin: 4, fontFamily: FONT },
    splitLine: { show: false }
  };
}
function topAxis(grid) {
  return {
    gridIndex: grid, type: 'value', position: 'top', min: 0.52, max: 0.75,
    axisLine: { show: true, onZero: false, lineStyle: { color: '#000', width: 1 } },
    axisTick: { show: true, inside: true, length: 4, customValues: xTicks, lineStyle: { color: '#000' } },
    axisLabel: { show: false },
    splitLine: { show: false }
  };
}
function leftAxis(grid, margin) {
  return {
    gridIndex: grid, type: 'value', position: 'left', min: 0.09, max: 0.32,
    name: 'Y (m)', nameLocation: 'middle', nameGap: 24, nameMoveOverlap: false,
    nameTextStyle: { fontSize: 12, color: '#000', fontFamily: FONT },
    axisLine: { show: true, onZero: false, lineStyle: { color: '#000', width: 1 } },
    axisTick: { show: true, inside: true, length: 4, customValues: yTicks, lineStyle: { color: '#000' } },
    axisLabel: { show: true, customValues: yTicks, formatter: tickFmt, fontSize: 8.5, color: '#262626', margin: margin, fontFamily: FONT },
    splitLine: { show: false }
  };
}
function rightAxis(grid) {
  return {
    gridIndex: grid, type: 'value', position: 'right', min: 0.09, max: 0.32,
    axisLine: { show: true, onZero: false, lineStyle: { color: '#000', width: 1 } },
    axisTick: { show: true, inside: true, length: 4, customValues: yTicks, lineStyle: { color: '#000' } },
    axisLabel: { show: false },
    splitLine: { show: false }
  };
}

function pathSeries(name, data, xi, yi, color, width, type, smooth) {
  return {
    name: name, type: 'line', xAxisIndex: xi, yAxisIndex: yi, data: data,
    smooth: smooth, symbol: 'none', showSymbol: false, connectNulls: false,
    lineStyle: { color: color, width: width, type: type },
    itemStyle: { color: color },
    emphasis: { disabled: true }, silent: true
  };
}

const chart = echarts.init(document.getElementById('chart'), null, { renderer: 'canvas' });
chart.setOption({
  animation: false,
  backgroundColor: '#fff',
  textStyle: { fontFamily: FONT },
  title: [
    { text: 'Path without previous knowledge', left: 230, top: 10, textAlign: 'center', padding: 0,
      textStyle: { fontSize: 15.5, fontWeight: 'normal', color: '#000', fontFamily: FONT } },
    { text: 'Path with previous knowledge', left: 710, top: 10, textAlign: 'center', padding: 0,
      textStyle: { fontSize: 15.5, fontWeight: 'normal', color: '#000', fontFamily: FONT } }
  ],
  legend: {
    data: ['trajectory', 'initial trajectory', 'desired forces', 'measured forces'],
    orient: 'vertical', left: 341, top: 37,
    padding: [4, 6, 4, 6], itemGap: 4.3, itemWidth: 25, itemHeight: 15,
    backgroundColor: '#fff', borderColor: '#000', borderWidth: 1, borderRadius: 0,
    selectedMode: false,
    itemStyle: { opacity: 0 },
    textStyle: { fontSize: 15, color: '#000', lineHeight: 15, fontFamily: FONT }
  },
  grid: [
    { left: 48, top: 32, width: 364, height: 364, outerBoundsMode: 'none', containLabel: false },
    { left: 527, top: 32, width: 365, height: 364, outerBoundsMode: 'none', containLabel: false }
  ],
  xAxis: [bottomAxis(0), topAxis(0), bottomAxis(1), topAxis(1)],
  yAxis: [leftAxis(0, 7), rightAxis(0), leftAxis(1, 6), rightAxis(1)],
  series: [
    pathSeries('trajectory', leftTrajectory, 0, 0, '#0000ff', 1, 'solid', 0.4),
    pathSeries('trajectory', rightTrajectory, 2, 2, '#0000ff', 1, 'solid', 0.4),
    pathSeries('initial trajectory', initialTrajectory, 2, 2, '#707070', 1, 'dotted', 0.4),
    pathSeries('desired forces', vectorSegments(leftDesired), 0, 0, '#00ff00', 1, 'solid', false),
    pathSeries('desired forces', vectorSegments(rightDesired), 2, 2, '#00ff00', 1, 'solid', false),
    pathSeries('measured forces', vectorSegments(leftMeasured), 0, 0, '#ff0000', 1, 'solid', false),
    pathSeries('measured forces', vectorSegments(rightMeasured), 2, 2, '#ff0000', 1, 'solid', false)
  ]
});
</script>
</body>
</html>
